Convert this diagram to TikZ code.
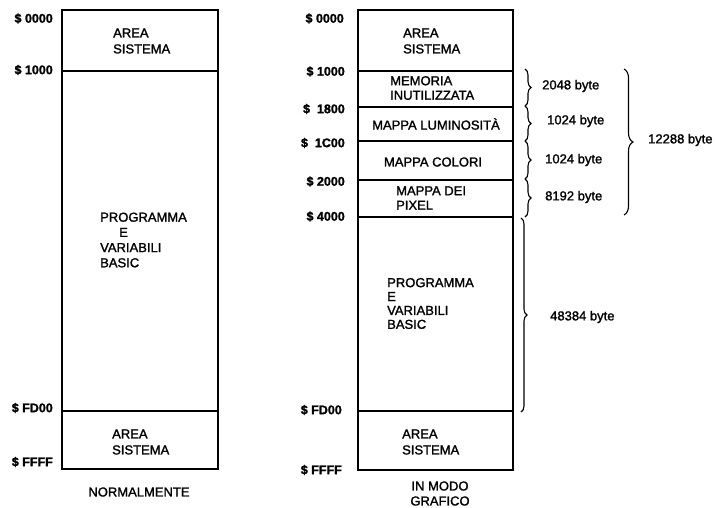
\documentclass[tikz,border=0pt]{standalone}
\usepackage{fontspec}
\setmainfont{Liberation Sans}[RawFeature={embolden=1.5}]
\usetikzlibrary{decorations.pathreplacing}
\begin{document}
\begin{tikzpicture}[x=1pt,y=-1pt,
  box/.style={draw,line width=1.7pt},
  sep/.style={line width=1.6pt},
  txt/.style={font=\fontsize{13}{16}\selectfont,align=left,anchor=west,inner sep=0pt},
  ctxt/.style={font=\fontsize{13}{15}\selectfont,align=center,inner sep=0pt},
  addr/.style={font=\fontsize{12.5}{14}\selectfont\bfseries,anchor=east,inner sep=0pt},
  lbl/.style={font=\fontsize{13}{14}\selectfont,anchor=west,inner sep=0pt},
  brc/.style={decorate,decoration={brace,amplitude=6pt},line width=1.1pt},
  bigbrc/.style={decorate,decoration={brace,amplitude=9pt},line width=1.1pt}]
\useasboundingbox (0,0) rectangle (715,507);

% ---------- left column ----------
\draw[box] (62,10) rectangle (218,469);
\draw[sep] (62,71) -- (218,71);
\draw[sep] (62,411) -- (218,411);

\node[addr] (l0000) at (53,18.5) {\$ 0000};
\node[addr] (l1000) at (53,70) {\$ 1000};
\node[addr] (lFD00) at (53,408) {\$ FD00};
\node[addr] (lFFFF) at (53,462) {\$ FFFF};

\node[txt] (lsys1) at (113,41) {AREA\\SISTEMA};
\node[txt,font=\fontsize{13}{15.2}\selectfont] (lprog) at (100,240) {PROGRAMMA\\\hspace*{19pt}E\\VARIABILI\\BASIC};
\node[txt] (lsys2) at (112,442) {AREA\\SISTEMA};
\node[ctxt] (lcap) at (139,492) {NORMALMENTE};

% ---------- right column ----------
\draw[box] (358,10) rectangle (513,470);
\foreach \yy in {71,107,141,180,217,411} \draw[sep] (358,\yy) -- (513,\yy);

\node[addr] (r0000) at (344,18.5) {\$ 0000};
\node[addr] (r1000) at (345,71.5) {\$ 1000};
\node[addr] (r1800) at (345,109) {\$\ \ 1800};
\node[addr] (r1C00) at (345,143) {\$\ \ 1C00};
\node[addr] (r2000) at (345,181.5) {\$ 2000};
\node[addr] (r4000) at (345,216.5) {\$ 4000};
\node[addr] (rFD00) at (342,410) {\$ FD00};
\node[addr] (rFFFF) at (342,470) {\$ FFFF};

\node[txt] (rsys1) at (403,41) {AREA\\SISTEMA};
\node[txt,font=\fontsize{13}{14.5}\selectfont] (rmem) at (390,88) {MEMORIA\\INUTILIZZATA};
\node[ctxt] (rlum) at (436,124) {MAPPA LUMINOSITÀ};
\node[ctxt] (rcol) at (433,162) {MAPPA COLORI};
\node[txt,font=\fontsize{13}{14.5}\selectfont] (rpix) at (396,198) {MAPPA DEI\\PIXEL};
\node[txt,font=\fontsize{13}{13.9}\selectfont] (rprog) at (387,303.5) {PROGRAMMA\\E\\VARIABILI\\BASIC};
\node[txt] (rsys2) at (402,442) {AREA\\SISTEMA};
\node[ctxt] (rcap) at (440,493.5) {IN MODO\\GRAFICO};

% ---------- braces ----------
\coordinate (b0) at (525,69);
\coordinate (b1) at (525,106);
\coordinate (b2) at (525,141);
\coordinate (b3) at (525,179);
\coordinate (b4) at (525,217);
\coordinate (b5) at (521,218);
\coordinate (b6) at (521,412);
\draw[brc] (b0) -- (b1);
\draw[brc] (b1) -- (b2);
\draw[brc] (b2) -- (b3);
\draw[brc] (b3) -- (b4);
\draw[brc] (b5) -- (b6);
\coordinate (B0) at (624,69);
\coordinate (B1) at (624,215);
\draw[bigbrc] (B0) -- (B1);

\node[lbl] (s1) at (542,86) {2048 byte};
\node[lbl] (s2) at (547,121) {1024 byte};
\node[lbl] (s3) at (545,160) {1024 byte};
\node[lbl] (s4) at (545,197) {8192 byte};
\node[lbl] (s5) at (648,140) {12288 byte};
\node[lbl] (s6) at (550,317) {48384 byte};
\end{tikzpicture}
\end{document}
